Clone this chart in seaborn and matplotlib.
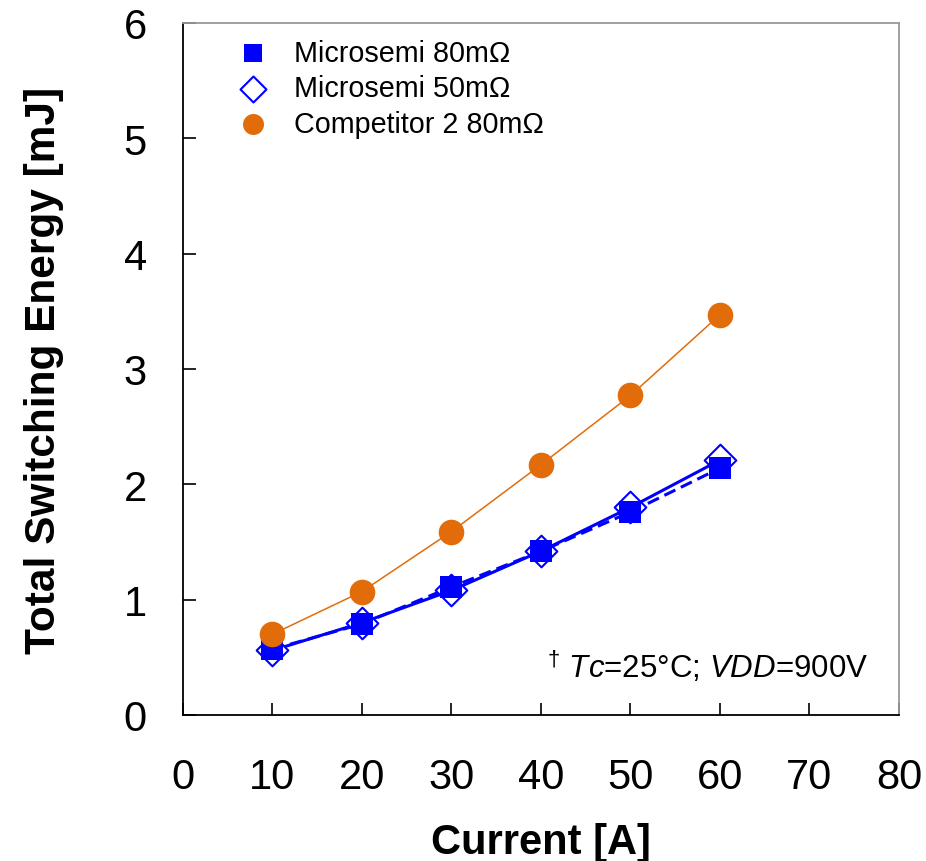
import pandas as pd
import matplotlib
matplotlib.use("Agg")
import matplotlib.pyplot as plt
import seaborn as sns

# values
current = [10, 20, 30, 40, 50, 60]
ms80_energy = [0.57, 0.79, 1.11, 1.42, 1.76, 2.14]
ms50_energy = [0.56, 0.80, 1.08, 1.42, 1.80, 2.21]
comp_energy = [0.70, 1.07, 1.59, 2.17, 2.77, 3.47]

x_ticks = [0, 10, 20, 30, 40, 50, 60, 70, 80]
y_ticks = [0, 1, 2, 3, 4, 5, 6]

BLUE = "#0000FF"
ORANGE = "#E36C0A"

sns.set_style("ticks")
plt.rcParams["font.family"] = ["Liberation Sans", "DejaVu Sans"]
plt.rcParams["mathtext.fontset"] = "custom"
plt.rcParams["mathtext.rm"] = "Liberation Sans"
plt.rcParams["mathtext.it"] = "Liberation Sans:italic"
plt.rcParams["text.color"] = "black"
plt.rcParams["axes.labelcolor"] = "black"

df80 = pd.DataFrame({"current": current, "energy": ms80_energy})
df50 = pd.DataFrame({"current": current, "energy": ms50_energy})
dfc = pd.DataFrame({"current": current, "energy": comp_energy})

fig = plt.figure(figsize=(9.26, 8.62), dpi=100)
ax = fig.add_axes([0.1976, 0.1694, 0.7732, 0.8028])

# lines
sns.lineplot(data=df50, x="current", y="energy", ax=ax, color=BLUE,
             linewidth=2.2, legend=False)
sns.lineplot(data=df80, x="current", y="energy", ax=ax, color=BLUE,
             linewidth=2.2, legend=False)
ax.lines[-1].set_linestyle((0, (4, 2)))
sns.lineplot(data=dfc, x="current", y="energy", ax=ax, color=ORANGE,
             linewidth=1.1, legend=False)

# markers
sns.scatterplot(data=df50, x="current", y="energy", ax=ax, marker="D",
                s=260, facecolor="white", edgecolor=BLUE, linewidth=1.5,
                label="Microsemi 50m\u03a9", zorder=3)
sns.scatterplot(data=df80, x="current", y="energy", ax=ax, marker="s",
                s=250, color=BLUE, edgecolor=BLUE, linewidth=0,
                label="Microsemi 80m\u03a9", zorder=4)
sns.scatterplot(data=dfc, x="current", y="energy", ax=ax, marker="o",
                s=340, color=ORANGE, edgecolor=ORANGE, linewidth=0,
                label="Competitor 2 80m\u03a9", zorder=5)

handles, labels = ax.get_legend_handles_labels()
order = [1, 0, 2]
leg = ax.legend([handles[i] for i in order], [labels[i] for i in order],
                loc="upper left", bbox_to_anchor=(0.03, 1.006), frameon=False,
                fontsize=20.7, markerscale=0.82, handletextpad=0.4,
                labelspacing=0.26, borderaxespad=0.3)

ax.set_xlim(0, 80)
ax.set_ylim(0, 6)
ax.set_xticks(x_ticks)
ax.set_yticks(y_ticks)
ax.tick_params(direction="in", length=9, width=1.2, labelsize=30, pad=30,
               colors="black")
ax.tick_params(axis="y", pad=26)

for side in ["left", "bottom"]:
    ax.spines[side].set_color("black")
    ax.spines[side].set_linewidth(1.3)
for side in ["top", "right"]:
    ax.spines[side].set_visible(True)
    ax.spines[side].set_color("#999999")
    ax.spines[side].set_linewidth(1.3)

ax.set_xlabel("Current [A]", fontsize=30, fontweight="bold", labelpad=18)
ax.set_ylabel("Total Switching Energy [mJ]", fontsize=30.5, fontweight="bold",
              labelpad=43)

ax.text(76.6, 0.33, r"$^{\dagger}$ $\it{Tc}$=25°C; $\it{VDD}$=900V",
        fontsize=22.5, ha="right", va="baseline")

fig.savefig("out.png", dpi=100, facecolor="white")
